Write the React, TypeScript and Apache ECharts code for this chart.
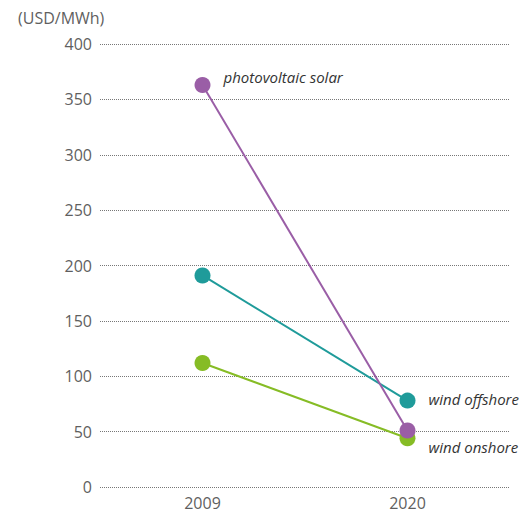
import React, { useEffect, useRef } from "react";
import * as echarts from "echarts";

const years = ["2009", "2020"];
const solar = [363, 51];
const offshore = [191, 78];
const onshore = [112, 44];
const yTicks = { min: 0, max: 400, interval: 50 };

const FONT = "'Open Sans', 'Noto Sans', sans-serif";
const TEXT = "#5f5f5f";

export default function App() {
  const ref = useRef<HTMLDivElement>(null);
  useEffect(() => {
    if (!ref.current) return;
    const chart = echarts.init(ref.current, undefined, { renderer: "svg" });
    const mk = (name: string, data: number[], color: string, labelIdx: number, offset: number[]) => ({
      name,
      type: "line",
      data: data.map((v, i) =>
        i === labelIdx
          ? {
              value: v,
              label: {
                show: true,
                position: "right",
                distance: 13,
                offset,
                formatter: name,
                fontStyle: "italic",
                fontSize: 15,
                color: "#333",
                fontFamily: FONT,
              },
            }
          : v
      ),
      symbol: "circle",
      symbolSize: 16,
      lineStyle: { color, width: 2 },
      itemStyle: { color },
      z: 3,
    });
    chart.setOption({
      animation: false,
      textStyle: { fontFamily: FONT },
      grid: { left: 92, right: 21, top: 36, bottom: 29 },
      xAxis: {
        type: "category",
        data: years,
        axisLine: { show: false },
        axisTick: { show: false },
        axisLabel: { color: TEXT, fontSize: 16, margin: 8, fontFamily: FONT },
      },
      yAxis: {
        type: "value",
        min: yTicks.min,
        max: yTicks.max,
        interval: yTicks.interval,
        axisLine: { show: false },
        axisTick: { show: false },
        axisLabel: { color: TEXT, fontSize: 16, margin: 8, fontFamily: FONT },
        splitLine: { lineStyle: { type: "dotted", color: "#777", width: 1 } },
      },
      graphic: [
        {
          type: "text",
          left: 10,
          top: 2,
          style: { text: "(USD/MWh)", fill: TEXT, fontSize: 16, fontFamily: FONT },
        },
      ],
      series: [
        mk("wind onshore", onshore, "#86bc25", 1, [0, 9]),
        mk("wind offshore", offshore, "#1f9b9a", 1, [0, -2]),
        mk("photovoltaic solar", solar, "#9a5ea6", 0, [0, -8]),
      ],
    });
    return () => chart.dispose();
  }, []);
  return <div ref={ref} style={{ width: 523, height: 508 }} />;
}
